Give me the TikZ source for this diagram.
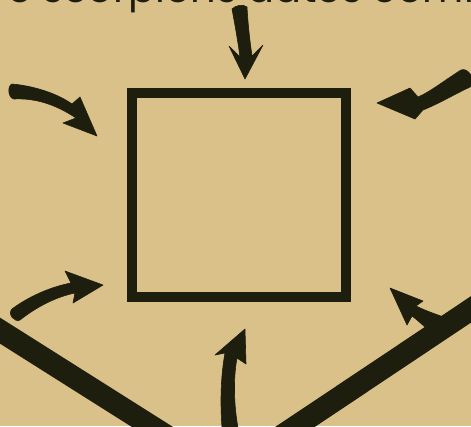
\documentclass[tikz,border=0pt]{standalone}
\usepackage{fontspec}
\newfontfamily\capfont{Poppins}
\definecolor{bg}{RGB}{217,193,137}
\definecolor{ink}{RGB}{30,30,14}
\tikzset{
  arrowshape/.style={fill=ink, draw=ink, line width=0.6pt, line join=round},
  wedge/.style={draw=ink, line width=22pt},
  frame/.style={draw=ink, line width=10pt, inner sep=0pt, minimum width=214pt, minimum height=204pt}
}
\begin{document}
\begin{tikzpicture}[x=1pt,y=-1pt]
\useasboundingbox (0,0) rectangle (471,426);
\fill[bg] (0,0) rectangle (471,426);
\begin{scope}
\clip (0,0) rectangle (471,426);
\node[anchor=base west, text=ink, font=\capfont\fontsize{40}{40}\selectfont, inner sep=0pt] (cap) at (-8,2.5) {re scorpions dates comin};
% V lines
\coordinate (la) at (-20,318);
\coordinate (lb) at (200,457);
\coordinate (ra) at (500,290);
\coordinate (rb) at (250,457);
\draw[wedge] (la) -- (lb);
\draw[wedge] (ra) -- (rb);
% square
\node[frame] (box) at (239,195) {};
% top arrow
\fill[arrowshape] (232,9) .. controls (235,25) and (238,42) .. (240,57)
  -- (229,46) -- (245,79) -- (263,45) -- (252,56)
  .. controls (250,42) and (248,25) .. (247,7)
  .. controls (243,4) and (236,5) .. (232,9) -- cycle;
% upper-left arrow
\fill[arrowshape] (12,84) .. controls (35,86) and (58,94) .. (72,104)
  -- (80,97) -- (97,136) -- (63,123) -- (76,118)
  .. controls (55,104) and (35,98) .. (14,99)
  .. controls (8,98) and (7,86) .. (12,84) -- cycle;
% upper-right arrow
\fill[arrowshape] (461,70) .. controls (445,80) and (430,92) .. (418,97)
  -- (410,88) -- (377,103) -- (415,119) -- (423,110)
  .. controls (438,104) and (455,94) .. (472,86)
  .. controls (476,80) and (468,67) .. (461,70) -- cycle;
% lower-left arrow
\fill[arrowshape] (12,309) .. controls (28,297) and (50,287) .. (71,283)
  -- (65,271) -- (103,285) -- (73,303) -- (75,293)
  .. controls (55,297) and (35,308) .. (20,320)
  .. controls (15,323) and (7,314) .. (12,309) -- cycle;
% bottom arrow
\fill[arrowshape] (245,329) -- (215,355) -- (225,353)
  .. controls (221,375) and (220,400) .. (222,428) -- (238,428)
  .. controls (234,405) and (233,380) .. (237,358) -- (246,364) -- cycle;
% lower-right arrow
\fill[arrowshape] (390,288) -- (423,301) -- (416,306)
  .. controls (426,311) and (438,315) .. (452,320) -- (436,337)
  .. controls (428,330) and (420,322) .. (412,316) -- (407,325) -- cycle;
\end{scope}
\end{tikzpicture}
\end{document}
